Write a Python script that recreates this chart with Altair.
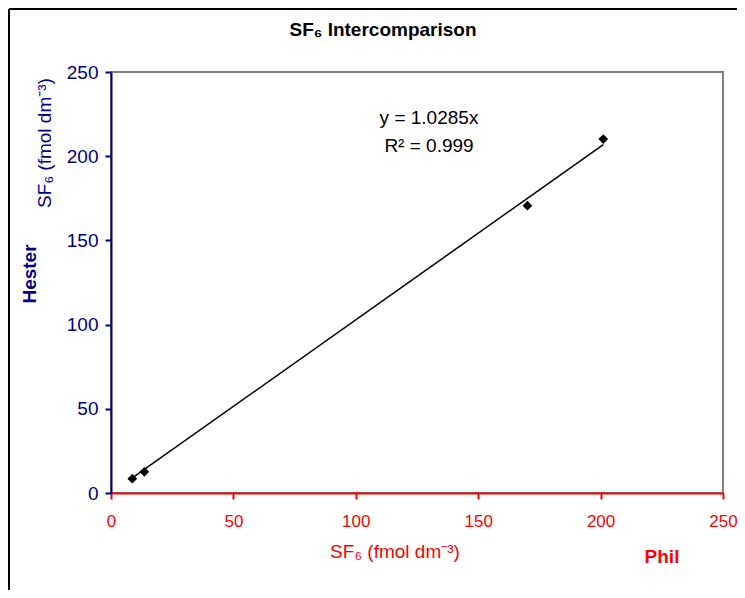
import altair as alt
import pandas as pd

# Data
phil = [8.7, 13.6, 170.1, 201.1]      # x: Phil SF6 (fmol dm-3)
hester = [8.5, 12.6, 170.6, 210.2]    # y: Hester SF6 (fmol dm-3)
slope = 1.0285
r2 = 0.999
ticks = [0, 50, 100, 150, 200, 250]

NAVY = "#000080"
RED = "#FF0000"
GRAY = "#808080"
FONT = "Liberation Sans"

df = pd.DataFrame({"phil": phil, "hester": hester})
df["fit"] = df["phil"] * slope

xs = alt.Scale(domain=[0, 250], nice=False, zero=False)
ys = alt.Scale(domain=[0, 250], nice=False, zero=False)

xaxis = alt.Axis(values=ticks, grid=False, title=None, domainColor=RED, domainWidth=2,
                 tickColor=RED, tickWidth=2, tickSize=6, labelColor=RED, labelFont=FONT,
                 labelFontSize=17, labelPadding=14, labelFlush=False)
yaxis = alt.Axis(values=ticks, grid=False, title=None, domainColor=NAVY, domainWidth=2,
                 tickColor=NAVY, tickWidth=2, tickSize=6, labelColor=NAVY, labelFont=FONT,
                 labelFontSize=19, labelPadding=7)

base = alt.Chart(df)

line = base.mark_line(color="black", strokeWidth=1.5).encode(
    x=alt.X("phil:Q", scale=xs, axis=xaxis),
    y=alt.Y("fit:Q", scale=ys, axis=yaxis),
)
points = base.mark_point(shape="diamond", filled=True, color="black", size=95, opacity=1).encode(
    x=alt.X("phil:Q", scale=xs),
    y=alt.Y("hester:Q", scale=ys),
)

one = alt.Chart(pd.DataFrame({"k": [0]}))

def label(text, x, y, size=18, color="black", bold=False, angle=0):
    kw = dict(text=text, font=FONT, fontSize=size, color=color, align="center",
              baseline="middle", fontWeight="bold" if bold else "normal")
    if angle:
        kw["angle"] = angle
    return one.mark_text(**kw).encode(x=alt.value(x), y=alt.value(y))

eq1 = label(f"y = {slope}x", 318, 46, size=19)
eq2 = label(f"R² = {r2}", 318, 74, size=19)
title = label("SF₆ Intercomparison", 272, -42, size=19, bold=True)
ytitle = label("SF₆ (fmol dm⁻³)", -66, 71, size=19, color=NAVY, angle=270)
hester_lbl = label("Hester", -81, 202, size=19, color=NAVY, bold=True, angle=270)
xtitle = label("SF₆ (fmol dm⁻³)", 284, 480, size=19, color=RED)
phil_lbl = label("Phil", 551, 485, size=19, color=RED, bold=True)

# outer frame of the chart (left and top edges visible)
frame_top = one.mark_rule(color="black", strokeWidth=2).encode(
    x=alt.value(-102), x2=alt.value(640), y=alt.value(-63))
frame_left = one.mark_rule(color="black", strokeWidth=2).encode(
    x=alt.value(-102), y=alt.value(-63), y2=alt.value(520))

chart = alt.layer(frame_top, frame_left, line, points, eq1, eq2, title, ytitle,
                  hester_lbl, xtitle, phil_lbl).properties(
    width=612, height=421,
    autosize=alt.AutoSizeParams(type="none"),
    padding={"left": 103, "top": 64, "right": 14, "bottom": 97},
    background="white",
).configure_view(stroke=GRAY, strokeWidth=2)

chart.save("out.html", embed_options={"renderer": "svg", "actions": False})
